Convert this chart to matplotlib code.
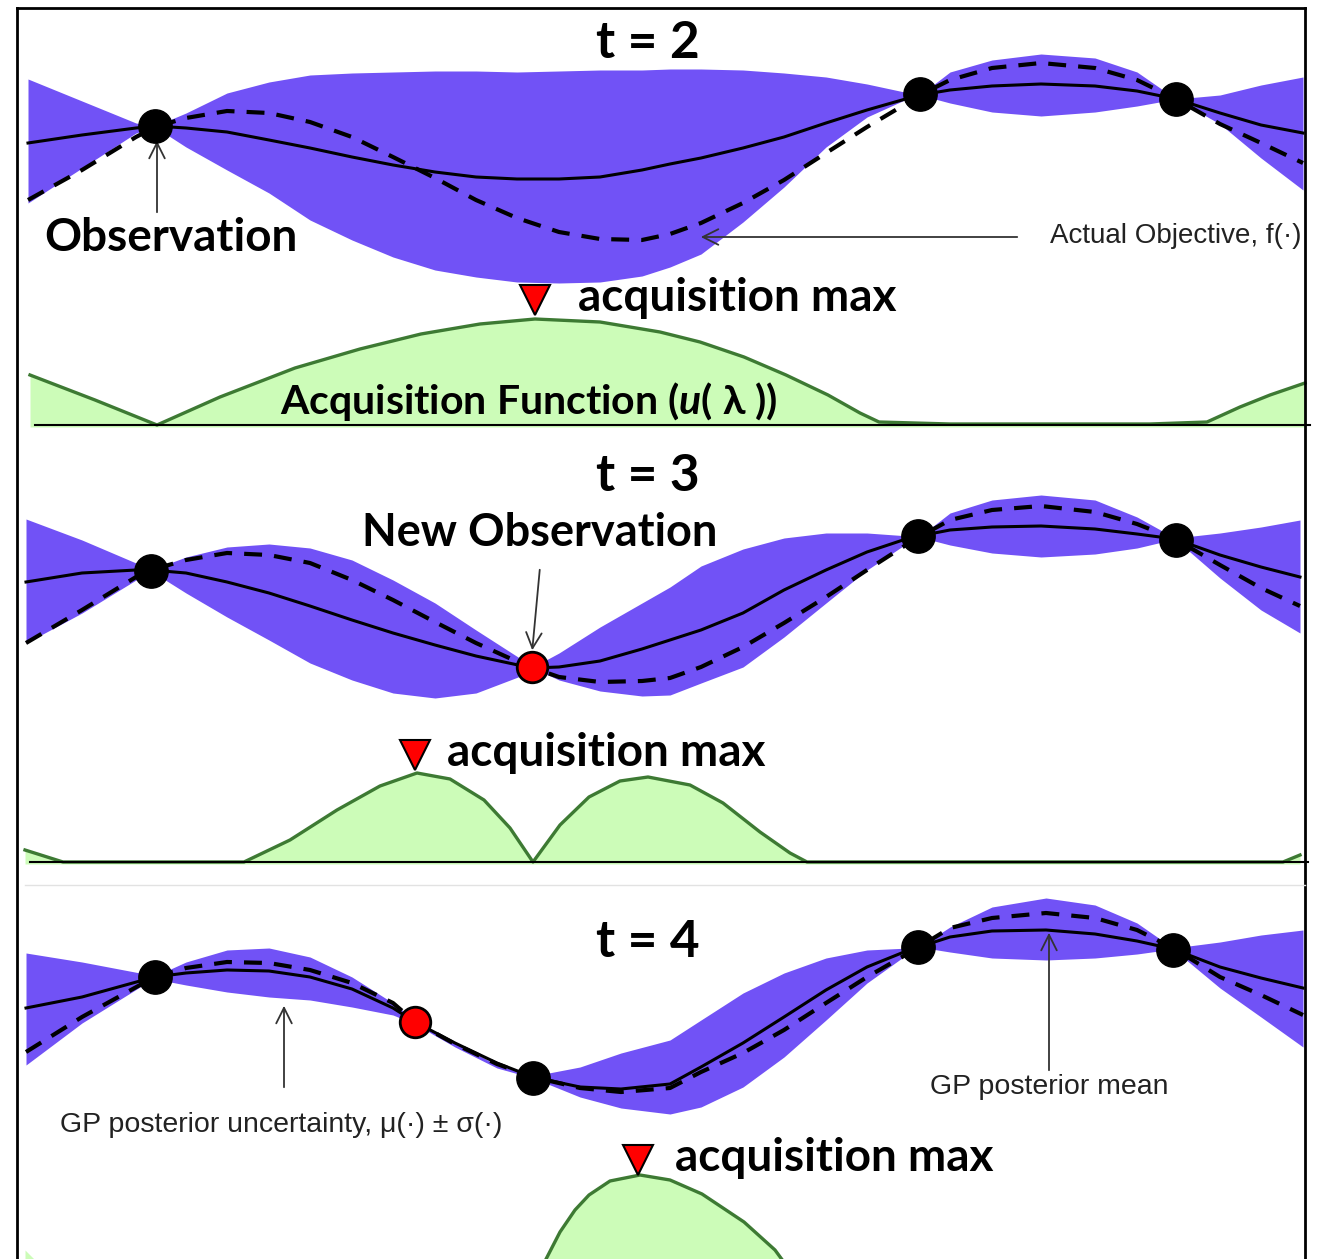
import matplotlib.pyplot as plt

# ---- data (image pixel units, y grows downward) ----
# t = 2
x_t2 = [28, 82, 136, 155, 186, 227, 269, 310, 352, 393, 435, 476, 517, 559, 600, 642, 670,
        701, 743, 784, 826, 867, 909, 920, 950, 992, 1041, 1095, 1137, 1176, 1220, 1261, 1303]
mean_t2 = [143, 135, 128, 126, 128, 132, 140, 148, 157, 165, 172, 177, 179, 179, 177, 170, 164,
           158, 148, 137, 123, 110, 98, 95, 90, 86, 84, 86, 91, 99, 113, 125, 133]
obj_t2 = [200, 170, 137, 127, 118, 111, 113, 122, 137, 157, 178, 200, 218, 232, 239, 240, 234,
          223, 203, 180, 153, 127, 102, 95, 80, 68, 63, 68, 80, 99, 124, 143, 163]
upper_t2 = [79, 101, 123, 126, 113, 93, 82, 75, 73, 72, 71, 71, 72, 71, 70, 70, 69,
            69, 70, 73, 77, 84, 93, 95, 72, 60, 54, 58, 72, 99, 95, 85, 77]
lower_t2 = [203, 168, 133, 127, 147, 170, 193, 220, 240, 257, 270, 277, 282, 283, 282, 276, 267,
            254, 222, 187, 147, 117, 98, 95, 103, 112, 116, 112, 106, 99, 124, 158, 190]
obs_x_t2 = [155, 920, 1176]
obs_y_t2 = [126, 94, 99]
acq_x_t2 = [30, 95, 157, 220, 295, 360, 421, 480, 535, 600, 660, 700, 744, 786, 828, 860, 879,
            950, 1050, 1150, 1207, 1240, 1270, 1305]
acq_y_t2 = [375, 400, 425, 397, 368, 349, 334, 324, 319, 322, 332, 342, 357, 375, 395, 413, 422,
            424, 424, 424, 422, 407, 395, 383]
amax_t2 = (535, 300)

# t = 3
x_t3 = [26, 82, 136, 151, 186, 227, 269, 310, 352, 393, 435, 476, 518, 533, 559, 600, 642, 670,
        701, 743, 784, 826, 867, 909, 919, 950, 992, 1041, 1095, 1137, 1175, 1220, 1261, 1300]
mean_t3 = [582, 573, 570, 570, 573, 582, 593, 606, 620, 633, 645, 656, 665, 668, 667, 661, 649, 640,
           630, 613, 590, 570, 552, 538, 536, 530, 527, 526, 529, 534, 539, 555, 567, 577]
obj_t3 = [643, 610, 577, 570, 560, 553, 555, 563, 580, 600, 622, 643, 662, 668, 677, 682, 681, 678,
          667, 647, 623, 597, 570, 543, 537, 520, 510, 506, 512, 524, 539, 565, 588, 606]
upper_t3 = [519, 540, 563, 570, 557, 547, 544, 548, 560, 580, 603, 630, 657, 667, 653, 627, 603, 587,
            566, 549, 538, 533, 533, 536, 537, 513, 500, 495, 500, 517, 538, 533, 527, 520]
lower_t3 = [643, 613, 580, 571, 593, 617, 640, 663, 680, 693, 698, 693, 677, 668, 680, 691, 696, 695,
            683, 667, 637, 603, 570, 542, 537, 545, 553, 557, 554, 548, 539, 578, 610, 633]
obs_x_t3 = [151, 918, 1176]
obs_y_t3 = [571, 536, 540]
new_x_t3, new_y_t3 = [532], [667]
acq_x_t3 = [25, 63, 150, 244, 290, 337, 380, 417, 450, 484, 510, 533, 560, 589, 620, 648, 690,
            723, 760, 790, 807, 900, 1100, 1283, 1300]
acq_y_t3 = [850, 862, 862, 862, 840, 810, 786, 773, 779, 800, 828, 862, 825, 797, 781, 777, 785,
            803, 832, 853, 862, 862, 862, 862, 855]
amax_t3 = (415, 755)

# t = 4
x_t4 = [26, 82, 140, 155, 186, 227, 269, 310, 352, 393, 415, 455, 497, 533, 580, 621, 670,
        701, 743, 784, 826, 867, 909, 919, 950, 992, 1046, 1095, 1137, 1173, 1220, 1261, 1303]
mean_t4 = [1008, 997, 981, 977, 973, 970, 971, 977, 989, 1008, 1022, 1043, 1063, 1077, 1087, 1089, 1084,
           1067, 1043, 1017, 990, 967, 950, 947, 937, 931, 930, 934, 941, 949, 967, 978, 988]
obj_t4 = [1052, 1017, 985, 977, 968, 962, 963, 970, 983, 1003, 1022, 1044, 1064, 1077, 1088, 1092, 1088,
          1072, 1053, 1030, 1003, 977, 953, 947, 928, 918, 913, 918, 930, 948, 977, 995, 1015]
upper_t4 = [953, 962, 973, 976, 962, 950, 948, 957, 977, 1003, 1020, 1043, 1065, 1076, 1067, 1053, 1040,
            1020, 993, 973, 958, 950, 948, 947, 927, 907, 898, 905, 923, 948, 942, 935, 930]
lower_t4 = [1065, 1023, 987, 979, 985, 992, 997, 1000, 1007, 1015, 1024, 1047, 1068, 1078, 1097, 1108, 1114,
            1107, 1087, 1057, 1020, 983, 953, 947, 952, 958, 960, 958, 954, 949, 988, 1017, 1047]
obs_x_t4 = [155, 533, 918, 1173]
obs_y_t4 = [977, 1078, 947, 950]
new_x_t4, new_y_t4 = [415], [1022]
acq_x_t4 = [543, 560, 575, 589, 610, 640, 670, 702, 744, 775, 786]
acq_y_t4 = [1265, 1232, 1210, 1195, 1181, 1175, 1180, 1194, 1222, 1250, 1265]
amax_t4 = (638, 1160)

amax_label_x = [578, 447, 675]

BAND = '#7152f6'
GREEN_FILL = '#ccfcb8'
GREEN_LINE = '#3d7a33'
CAL = ['Lato', 'DejaVu Sans']
HEL = ['Liberation Sans', 'DejaVu Sans']

plt.rcParams['mathtext.fontset'] = 'custom'
plt.rcParams['mathtext.bfit'] = 'Lato:italic:bold'

fig = plt.figure(figsize=(13.21, 12.59), dpi=100)
ax = fig.add_axes([0, 0, 1, 1])
ax.set_xlim(0, 1321)
ax.set_ylim(1259, 0)
ax.axis('off')


def gp_panel(x, mean, obj, upper, lower, ox, oy, nx=None, ny=None):
    ax.fill_between(x, upper, lower, color=BAND, lw=0, zorder=1)
    ax.plot(x, mean, color='black', lw=2.2, zorder=3, solid_joinstyle='round')
    ax.plot(x, obj, color='black', lw=3, dashes=(4.3, 2.9), zorder=3)
    ax.plot(ox, oy, 'o', ms=24, color='black', zorder=5)
    if nx is not None:
        ax.plot(nx, ny, 'o', ms=22, mfc='red', mec='black', mew=2, zorder=5)


def acq_panel(x, y, amax, base):
    ax.fill_between(x, y, base, color=GREEN_FILL, lw=0, zorder=1)
    ax.plot(x, y, color=GREEN_LINE, lw=2.4, zorder=2, solid_joinstyle='round')
    ax.plot([amax[0]], [amax[1]], 'v', ms=21, mfc='red', mec='black', mew=1.5, zorder=5)


gp_panel(x_t2, mean_t2, obj_t2, upper_t2, lower_t2, obs_x_t2, obs_y_t2)
acq_panel(acq_x_t2, acq_y_t2, amax_t2, 427)
gp_panel(x_t3, mean_t3, obj_t3, upper_t3, lower_t3, obs_x_t3, obs_y_t3, new_x_t3, new_y_t3)
acq_panel(acq_x_t3, acq_y_t3, amax_t3, 864)
gp_panel(x_t4, mean_t4, obj_t4, upper_t4, lower_t4, obs_x_t4, obs_y_t4, new_x_t4, new_y_t4)
acq_panel(acq_x_t4, acq_y_t4, amax_t4, 1265)
ax.fill_between([25, 40], [1250, 1265], 1265, color=GREEN_FILL, lw=0)

# frame and separators
ax.plot([17, 17], [8, 1259], color='black', lw=2, zorder=6)
ax.plot([17, 1305], [8, 8], color='black', lw=2, zorder=6)
ax.plot([1305, 1305], [8, 1259], color='black', lw=2, zorder=6)
ax.plot([35, 1310], [425, 425], color='black', lw=1.5, zorder=6)
ax.plot([30, 1308], [862, 862], color='black', lw=1.5, zorder=6)
ax.plot([25, 1305], [885, 885], color='#e2e2e2', lw=1, zorder=6)

# titles
for label, y in [('t = 2', 43), ('t = 3', 476), ('t = 4', 942)]:
    ax.text(648, y, label, ha='center', va='center', fontsize=37, fontweight='bold', family=CAL)

ax.text(44, 238, 'Observation', ha='left', va='center', fontsize=33, fontweight='bold', family=CAL)
ax.text(540, 533, 'New Observation', ha='center', va='center', fontsize=32.5, fontweight='bold', family=CAL)
for lx, (mx, my) in zip(amax_label_x, [amax_t2, amax_t3, amax_t4]):
    ax.text(lx, my - 2, 'acquisition max', ha='left', va='center', fontsize=33,
            fontweight='bold', family=CAL)
ax.text(280, 401, r'Acquisition Function ($\mathbfit{u}$( λ ))', ha='left', va='center',
        fontsize=29.5, fontweight='bold', family=CAL, zorder=7)

ax.text(1050, 236, 'Actual Objective, f(·)', ha='left', va='center', fontsize=20, family=HEL, color='#222222')
ax.text(60, 1125, 'GP posterior uncertainty, μ(·) ± σ(·)', ha='left', va='center', fontsize=20.5,
        family=HEL, color='#222222')
ax.text(930, 1087, 'GP posterior mean', ha='left', va='center', fontsize=20.5, family=HEL, color='#222222')

arrow = dict(arrowstyle='->', color='#333333', lw=1.3, mutation_scale=28)
ax.annotate('', xy=(157, 138), xytext=(157, 215), arrowprops=arrow, zorder=4)
ax.annotate('', xy=(698, 237), xytext=(1020, 237), arrowprops=arrow, zorder=4)
ax.annotate('', xy=(532, 653), xytext=(540, 567), arrowprops=arrow, zorder=4)
ax.annotate('', xy=(284, 1003), xytext=(284, 1090), arrowprops=arrow, zorder=4)
ax.annotate('', xy=(1049, 930), xytext=(1049, 1073), arrowprops=arrow, zorder=4)

fig.savefig('out.png', dpi=100)
